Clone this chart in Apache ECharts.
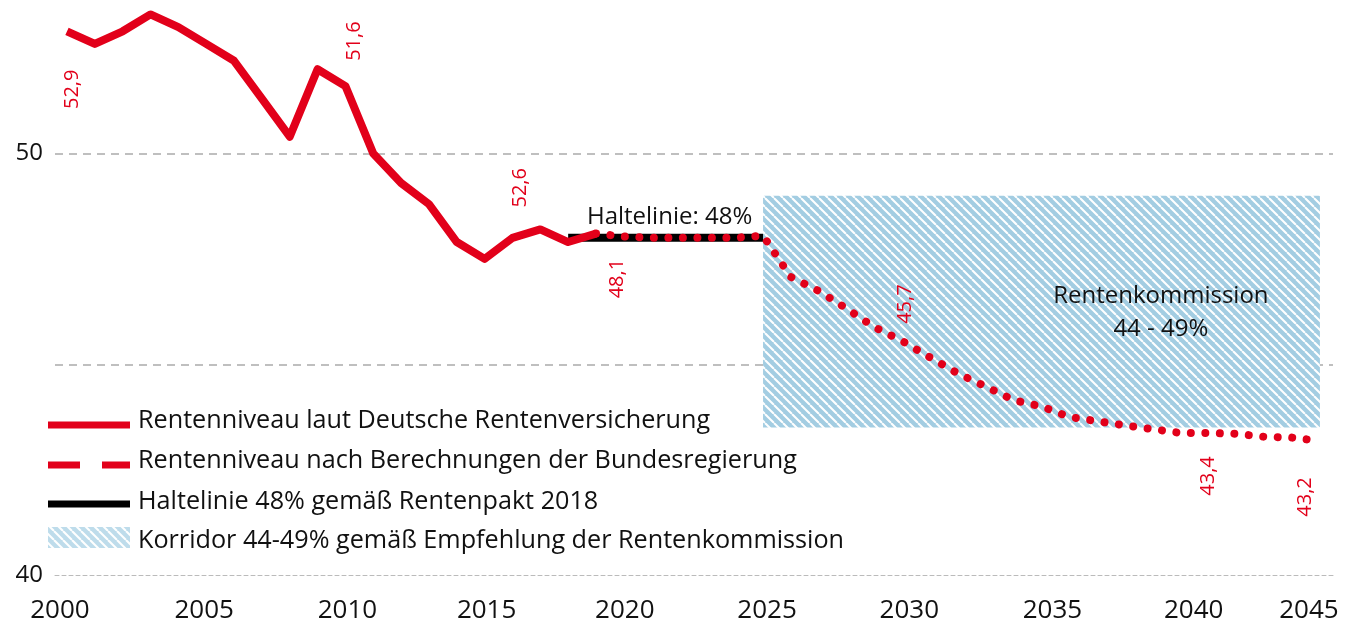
<!DOCTYPE html>
<html>
<head>
<meta charset="utf-8">
<script src="https://cdn.jsdelivr.net/npm/echarts@6/dist/echarts.min.js"></script>
<style>
  html, body { margin: 0; padding: 0; background: #fff; }
  #chart { width: 1345px; height: 623px; }
</style>
</head>
<body>
<div id="chart"></div>
<script>
// Rentenniveau laut Deutsche Rentenversicherung
const drvYears = [2000, 2001, 2002, 2003, 2004, 2005, 2006, 2007, 2008, 2009,
                  2010, 2011, 2012, 2013, 2014, 2015, 2016, 2017, 2018, 2019];
const drvValues = [52.9, 52.6, 52.9, 53.3, 53.0, 52.6, 52.2, 51.3, 50.4, 52.0,
                   51.6, 50.0, 49.3, 48.8, 47.9, 47.5, 48.0, 48.2, 47.9, 48.1];

// Rentenniveau nach Berechnungen der Bundesregierung
const govYears = [2019, 2020, 2021, 2022, 2023, 2024, 2025, 2026, 2027, 2028,
                  2029, 2030, 2031, 2032, 2033, 2034, 2035, 2036, 2037, 2038,
                  2039, 2040, 2041, 2042, 2043, 2044, 2045];
const govValues = [48.1, 48.03, 48.0, 48.0, 48.0, 48.0, 48.05, 47.07, 46.74, 46.32,
                   45.88, 45.55, 45.16, 44.78, 44.47, 44.15, 44.0, 43.75, 43.65, 43.55,
                   43.46, 43.37, 43.37, 43.35, 43.28, 43.26, 43.18];

// Haltelinie 48%
const holdYears = [2018, 2025];
const holdValues = [48, 48];

// Korridor der Rentenkommission
const corridorYears = [2025, 2045];
const corridorRange = [43.5, 49];

const xTicks = [2000, 2005, 2010, 2015, 2020, 2025, 2030, 2035, 2040, 2045];
const yTicks = [40, 50];

// Wertbeschriftungen (Text wie im Original)
const labelYears = [2000, 2010, 2016, 2019, 2030, 2040, 2045];
const labelTexts = ['52,9', '51,6', '52,6', '48,1', '45,7', '43,4', '43,2'];

const legendNames = [
    'Rentenniveau laut Deutsche Rentenversicherung',
    'Rentenniveau nach Berechnungen der Bundesregierung',
    'Haltelinie 48% gemäß Rentenpakt 2018',
    'Korridor 44-49% gemäß Empfehlung der Rentenkommission'
];

const RED = '#e2001a';
const FONT = '"Open Sans", "Noto Sans", sans-serif';

// Schraffur fuer den Korridor
function hatch(bg, alpha) {
    const s = 9;
    const c = document.createElement('canvas');
    c.width = s; c.height = s;
    const ctx = c.getContext('2d');
    ctx.globalAlpha = alpha;
    ctx.fillStyle = bg;
    ctx.fillRect(0, 0, s, s);
    ctx.globalAlpha = 1;
    ctx.strokeStyle = '#fff';
    ctx.lineWidth = 2;
    for (let k = -1; k <= 1; k++) {
        ctx.beginPath();
        ctx.moveTo(k * s, 0);
        ctx.lineTo(k * s + s, s);
        ctx.stroke();
    }
    return c;
}

function pairs(xs, ys) {
    return xs.map((x, i) => [x, ys[i]]);
}

// Jahreszahlen sitzen im Original nicht ganz unter den Werten: kleine Verschiebung je Beschriftung
const xLabelShift = [-7, -2, 2, 2, 1, 4, 7, 11, 13, -11];
const xLabelRich = {};
xLabelShift.forEach((s, i) => {
    xLabelRich['s' + i] = {
        fontSize: 26, fontFamily: FONT, color: '#111',
        padding: s > 0 ? [0, 0, 0, 2 * s] : [0, -2 * s, 0, 0]
    };
});

const chart = echarts.init(document.getElementById('chart'));

chart.setOption({
    animation: false,
    grid: { left: 55, right: 12, top: 6, bottom: 48, containLabel: false, outerBoundsMode: 'none' },
    xAxis: {
        type: 'value',
        min: 1999.57,
        max: 2045.47,
        axisLine: { show: true, lineStyle: { color: '#bbb', width: 1, type: [4, 3] } },
        axisTick: { show: false },
        splitLine: { show: false },
        axisLabel: {
            customValues: xTicks,
            formatter: v => '{s' + xTicks.indexOf(v) + '|' + v + '}',
            rich: xLabelRich,
            color: '#111',
            fontSize: 26,
            fontFamily: FONT,
            margin: 23
        }
    },
    yAxis: {
        type: 'value',
        min: 40,
        max: 53.5,
        interval: 5,
        axisLine: { show: false },
        axisTick: { show: false },
        splitLine: {
            show: true,
            showMinLine: false,
            showMaxLine: false,
            lineStyle: { color: '#aaa', width: 1.5, type: [8, 6] }
        },
        axisLabel: {
            customValues: yTicks,
            color: '#111',
            fontSize: 24,
            fontFamily: FONT,
            margin: 12
        }
    },
    series: [
        {
            name: legendNames[2],
            type: 'line',
            data: pairs(holdYears, holdValues),
            symbol: 'none',
            z: 2,
            lineStyle: { color: '#000', width: 8, cap: 'butt' }
        },
        {
            name: legendNames[0],
            type: 'line',
            data: pairs(drvYears, drvValues),
            symbol: 'none',
            z: 3,
            lineStyle: { color: RED, width: 8, join: 'round', cap: 'butt' }
        },
        {
            name: legendNames[1],
            type: 'line',
            data: pairs(govYears, govValues),
            symbol: 'none',
            z: 4,
            lineStyle: { color: RED, width: 8, type: [0.01, 14.5], cap: 'round' },
            markArea: {
                silent: true,
                itemStyle: { color: { image: hatch('#a3cde2', 1), repeat: 'repeat' } },
                data: [[
                    { coord: [corridorYears[0], corridorRange[1]] },
                    { coord: [corridorYears[1], corridorRange[0]] }
                ]]
            }
        }
    ]
});

// Beschriftungen, an Datenpunkten verankert
const labelOffsets = [[5, 58], [9, -45], [8, -50], [21, 45], [3, -37], [28, 43], [-15, 56]];
const allYears = drvYears.concat(govYears);
const allValues = drvValues.concat(govValues);

const graphics = labelYears.map((yr, i) => {
    const v = allValues[allYears.indexOf(yr)];
    const p = chart.convertToPixel({ gridIndex: 0 }, [yr, v]);
    return {
        type: 'text',
        x: p[0] + labelOffsets[i][0],
        y: p[1] + labelOffsets[i][1],
        rotation: Math.PI / 2,
        z: 10,
        style: {
            text: labelTexts[i], fill: RED, font: '20px ' + FONT,
            align: 'center', verticalAlign: 'middle',
            textAlign: 'center', textVerticalAlign: 'middle'
        }
    };
});

// Texte im Diagramm
const hp = chart.convertToPixel({ gridIndex: 0 }, [2021.5, 48]);
graphics.push({
    type: 'text', x: hp[0] + 4, y: hp[1] - 21, z: 10,
    style: { text: 'Haltelinie: 48%', fill: '#111', font: '24px ' + FONT,
             align: 'center', verticalAlign: 'middle', textAlign: 'center', textVerticalAlign: 'middle' }
});
const kp = chart.convertToPixel({ gridIndex: 0 }, [2039, 46.5]);
graphics.push({
    type: 'text', x: kp[0] + 8, y: kp[1] + 11.5, z: 10,
    style: { text: 'Rentenkommission\n44 - 49%', fill: '#111', font: '24px ' + FONT, lineHeight: 33.5,
             align: 'center', verticalAlign: 'middle', textAlign: 'center', textVerticalAlign: 'middle' }
});

// Legende
const legendChildren = [];
legendChildren.push({ type: 'line', shape: { x1: 48, y1: 425, x2: 130, y2: 425 },
                      style: { stroke: RED, lineWidth: 7 } });
legendChildren.push({ type: 'line', shape: { x1: 48, y1: 465, x2: 130, y2: 465 },
                      style: { stroke: RED, lineWidth: 7, lineDash: [32, 22] } });
legendChildren.push({ type: 'line', shape: { x1: 48, y1: 504, x2: 130, y2: 504 },
                      style: { stroke: '#000', lineWidth: 7 } });
legendChildren.push({ type: 'rect', shape: { x: 48, y: 527, width: 82, height: 21 },
                      style: { fill: { image: hatch('#a3cde2', 0.7), repeat: 'repeat' } } });
const legendTextY = [421, 460.5, 501.5, 540.5];
legendNames.forEach((name, i) => {
    legendChildren.push({
        type: 'text', x: 138, y: legendTextY[i],
        style: { text: name, fill: '#111', font: '25.2px ' + FONT,
                 align: 'left', verticalAlign: 'middle', textAlign: 'left', textVerticalAlign: 'middle' }
    });
});
graphics.push({ type: 'group', z: 10, children: legendChildren });

chart.setOption({ graphic: graphics });
</script>
</body>
</html>
